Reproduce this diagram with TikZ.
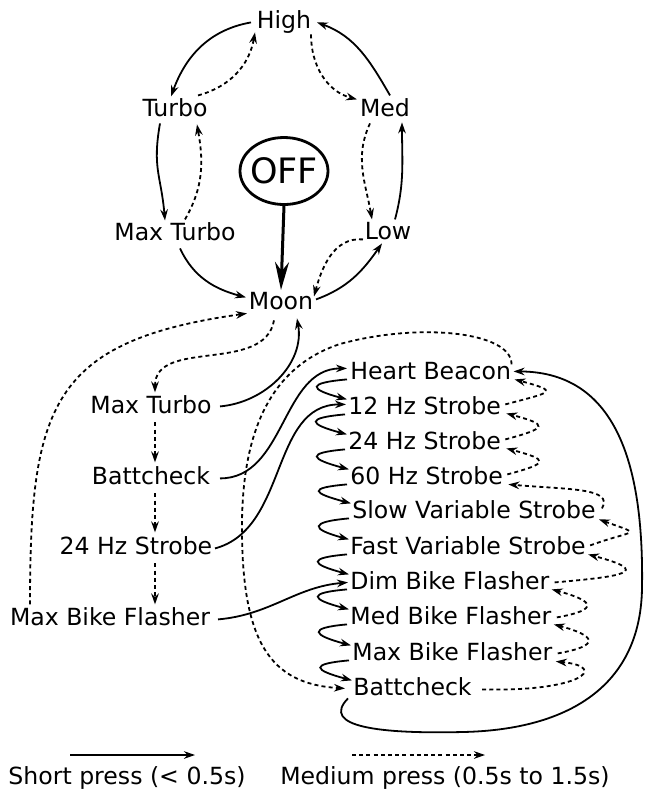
\documentclass[tikz,border=0pt]{standalone}
\usepackage{fontspec}
\setmainfont{DejaVu Sans}
\usetikzlibrary{arrows.meta,shapes.geometric}
\begin{document}
\begin{tikzpicture}[x=0.5pt,y=0.5pt,
  lbl/.style={inner sep=1pt, text height=8.6pt, text depth=2.4pt, yshift=-1.2pt, font=\fontsize{11.8}{14}\selectfont},
  rl/.style={lbl, anchor=west},
  sp/.style={line width=0.9pt, -{Stealth[length=5.5pt,width=3.8pt]}},
  mp/.style={sp, dash pattern=on 2pt off 1.6pt},
  lp/.style={sp, out=185, in=165, out distance=20pt, in distance=20pt},
]
\useasboundingbox (0,0) rectangle (653,-800);
% top cycle
\node[lbl] (high) at (284,-20) {High};
\node[lbl] (turbo) at (175,-108) {Turbo};
\node[lbl] (med) at (385,-108) {Med};
\node[lbl] (mta) at (175,-232) {Max Turbo};
\node[lbl] (low) at (388,-231) {Low};
\node[lbl] (moon) at (281,-301) {Moon};
\node[draw, ellipse, line width=1.4pt, minimum width=44pt, minimum height=33.5pt, inner xsep=-1.5pt, inner ysep=0pt, font=\fontsize{17.5}{20}\selectfont] (off) at (284,-171) {OFF};
% left column
\node[lbl] (mtb) at (151,-405) {Max Turbo};
\node[lbl] (battb) at (151,-476) {Battcheck};
\node[lbl] (s24b) at (136,-546) {24 Hz Strobe};
\node[lbl] (mbb) at (110,-617) {Max Bike Flasher};
% right column
\node[rl] (hb) at (348,-371) {Heart Beacon};
\node[rl] (s12) at (346,-406) {12 Hz Strobe};
\node[rl] (s24) at (346,-441) {24 Hz Strobe};
\node[rl] (s60) at (348,-476) {60 Hz Strobe};
\node[rl] (svs) at (350,-510) {Slow Variable Strobe};
\node[rl] (fvs) at (348,-546) {Fast Variable Strobe};
\node[rl] (dbf) at (348,-581) {Dim Bike Flasher};
\node[rl] (medbf) at (348,-616) {Med Bike Flasher};
\node[rl] (maxbf) at (350,-652) {Max Bike Flasher};
\node[rl] (battr) at (351,-687) {Battcheck};
% legend
\coordinate (l1a) at (70,-755);
\coordinate (l1b) at (195,-755);
\coordinate (l2a) at (352,-755);
\coordinate (l2b) at (485,-755);
\node[lbl] (l1t) at (127,-776) {Short press (< 0.5s)};
\node[lbl] (l2t) at (445,-776) {Medium press (0.5s to 1.5s)};
\draw[sp] (l1a) -- (l1b);
\draw[mp] (l2a) -- (l2b);

% top cycle edges
\draw[sp] ([shift={(-33,0)}]high.center) to[out=190,in=70] ([shift={(-4,14)}]turbo.center);
\draw[mp] ([shift={(23,15)}]turbo.center) to[out=15,in=-100] ([shift={(-29,-10)}]high.center);
\draw[mp] ([shift={(27,-12)}]high.center) to[out=-90,in=165] ([shift={(-28,11)}]med.center);
\draw[sp] ([shift={(5,15)}]med.center) to[out=120,in=-20] ([shift={(33,0)}]high.center);
\draw[sp] ([shift={(-15,-13)}]turbo.center) to[out=-100,in=95,looseness=1.2] ([shift={(-10,14)}]mta.center);
\draw[mp] ([shift={(10,15)}]mta.center) to[out=60,in=-80] ([shift={(22,-14)}]turbo.center);
\draw[mp] ([shift={(-15,-13)}]med.center) to[out=-115,in=100] ([shift={(-16,14)}]low.center);
\draw[sp] ([shift={(7,14)}]low.center) to[out=75,in=-90] ([shift={(17,-12)}]med.center);
\draw[sp] ([shift={(5,-14)}]mta.center) to[out=-65,in=165] ([shift={(-35,6)}]moon.center);
\draw[sp] ([shift={(35,4)}]moon.center) to[out=20,in=-125] ([shift={(-6,-10)}]low.center);
\draw[mp] ([shift={(-25,-6)}]low.center) to[out=175,in=75] ([shift={(33,7)}]moon.center);
\draw[line width=1.5pt, -{Stealth[length=14pt,width=7pt]}] (off.south) -- (moon.north);

% moon / left column
\draw[mp] ([shift={(-7,-17)}]moon.center) to[out=-100,in=90] ([shift={(4,15)}]mtb.center);
\draw[sp] ([shift={(69,1)}]mtb.center) to[out=5,in=-80] ([shift={(16,-15)}]moon.center);
\draw[mp] ([shift={(4,-15)}]mtb.center) -- ([shift={(4,16)}]battb.center);
\draw[mp] ([shift={(4,-15)}]battb.center) -- ([shift={(19,16)}]s24b.center);
\draw[mp] ([shift={(19,-15)}]s24b.center) -- ([shift={(45,15)}]mbb.center);
\draw[mp] ([shift={(-80,15)}]mbb.center) to[out=90,in=188,looseness=1.4] ([shift={(-34,-10)}]moon.center);
\draw[sp] ([shift={(69,0)}]battb.center) to[out=0,in=180] ([shift={(-1,5)}]hb.west);
\draw[sp] ([shift={(79,0)}]s24b.center) to[out=15,in=180] ([shift={(0,4)}]s12.west);
\draw[sp] ([shift={(108,0)}]mbb.center) to[out=5,in=185] ([shift={(0,1)}]dbf.west);

% right column short loops
\draw[lp] ([shift={(-1,-6)}]hb.west) to ([shift={(1,9)}]s12.west);
\draw[lp] ([shift={(-1,-6)}]s12.west) to ([shift={(1,9)}]s24.west);
\draw[lp] ([shift={(-1,-6)}]s24.west) to ([shift={(1,9)}]s60.west);
\draw[lp] ([shift={(-1,-6)}]s60.west) to ([shift={(1,9)}]svs.west);
\draw[lp] ([shift={(-1,-6)}]svs.west) to ([shift={(1,9)}]fvs.west);
\draw[lp] ([shift={(-1,-6)}]fvs.west) to ([shift={(1,9)}]dbf.west);
\draw[lp] ([shift={(-1,-6)}]dbf.west) to ([shift={(1,9)}]medbf.west);
\draw[lp] ([shift={(-1,-6)}]medbf.west) to ([shift={(1,9)}]maxbf.west);
\draw[lp] ([shift={(-1,-6)}]maxbf.west) to ([shift={(1,9)}]battr.west);

% right column medium loops
\draw[mp] ([shift={(2,4)}]s12.east) to[out=15,in=-15,out distance=24pt,in distance=24pt] ([shift={(1,-6)}]hb.east);
\draw[mp] ([shift={(2,4)}]s24.east) to[out=15,in=-15,out distance=22pt,in distance=22pt] ([shift={(3,-5)}]s12.east);
\draw[mp] ([shift={(2,4)}]s60.east) to[out=15,in=-15,out distance=22pt,in distance=22pt] ([shift={(3,-5)}]s24.east);
\draw[mp] ([shift={(4,4)}]svs.east) to[out=60,in=-5,out distance=12pt,in distance=30pt] ([shift={(3,-6)}]s60.east);
\draw[mp] ([shift={(2,3)}]fvs.east) to[out=20,in=-20,out distance=24pt,in distance=24pt] ([shift={(1,-7)}]svs.east);
\draw[mp] ([shift={(3,1)}]dbf.east) to[out=5,in=-15,out distance=34pt,in distance=34pt] ([shift={(0,-6)}]fvs.east);
\draw[mp] ([shift={(3,1)}]medbf.east) to[out=10,in=-15,out distance=22pt,in distance=22pt] ([shift={(0,-6)}]dbf.east);
\draw[mp] ([shift={(3,1)}]maxbf.east) to[out=10,in=-15,out distance=22pt,in distance=22pt] ([shift={(0,-6)}]medbf.east);
\draw[mp] ([shift={(8,0)}]battr.east) .. controls (580,-692) and (610,-667) .. ([shift={(1,-7)}]maxbf.east);

% big loops
\draw[sp] ([shift={(-3,-9)}]battr.west) .. controls (320,-727) and (380,-734) .. (463,-732)
   .. controls (560,-730) and (640,-692) .. (642,-589)
   .. controls (644,-472) and (620,-372) .. ([shift={(0,2)}]hb.east);
\draw[mp] ([shift={(-2,9)}]hb.east) .. controls (512,-332) and (420,-322) .. (340,-344)
   .. controls (270,-367) and (243,-432) .. (242,-522)
   .. controls (241,-642) and (270,-684) .. ([shift={(-6,1)}]battr.west);
\end{tikzpicture}
\end{document}
